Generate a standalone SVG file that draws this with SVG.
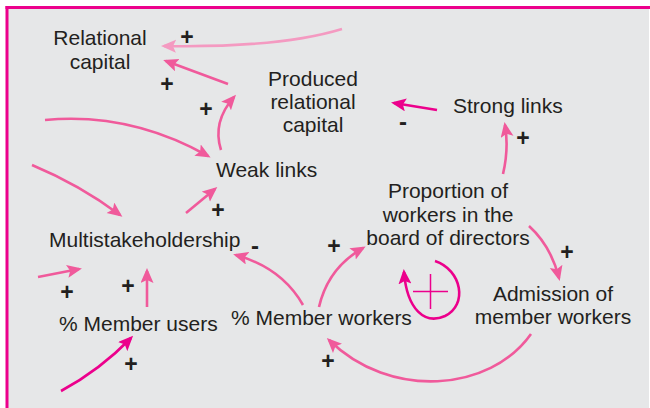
<svg xmlns="http://www.w3.org/2000/svg" width="650" height="408" viewBox="0 0 650 408">
<defs>
<style>
.t{font-family:"Liberation Sans",Arial,sans-serif;font-size:21px;fill:#231f20}
.s{font-family:"Liberation Sans",Arial,sans-serif;font-size:21px;fill:#231f20;text-anchor:middle}
.p{font-family:"Liberation Sans",Arial,sans-serif;font-size:23px;font-weight:bold;fill:#231f20;text-anchor:middle}
.m{font-family:"Liberation Sans",Arial,sans-serif;font-size:24px;font-weight:bold;fill:#231f20;text-anchor:middle}
.c{fill:none;stroke:#f05a9b;stroke-width:2.6}
.d{fill:none;stroke:#ec008c;stroke-width:2.6}
.l{fill:none;stroke:#f49ac1;stroke-width:2.6}
</style>
<marker id="ap" markerUnits="userSpaceOnUse" markerWidth="16" markerHeight="14" refX="12" refY="6.5" orient="auto" viewBox="0 0 16 14"><path d="M0,0 L15,6.5 L0,13 L3,6.5 z" fill="#f05a9b"/></marker>
<marker id="ad" markerUnits="userSpaceOnUse" markerWidth="16" markerHeight="14" refX="12" refY="6.5" orient="auto" viewBox="0 0 16 14"><path d="M0,0 L15,6.5 L0,13 L3,6.5 z" fill="#ec008c"/></marker>
<marker id="al" markerUnits="userSpaceOnUse" markerWidth="16" markerHeight="14" refX="12" refY="6.5" orient="auto" viewBox="0 0 16 14"><path d="M0,0 L15,6.5 L0,13 L3,6.5 z" fill="#f49ac1"/></marker>
</defs>
<rect width="650" height="408" fill="#ffffff"/>
<rect x="7" y="7" width="642" height="410" fill="#e6e7e8"/>
<line x1="5.5" y1="7.5" x2="650" y2="7.5" stroke="#ec008c" stroke-width="3"/>
<line x1="7" y1="6" x2="7" y2="408" stroke="#ec008c" stroke-width="3"/>

<g id="connectors">
<path class="l" d="M342,29 Q280,48 164,46" marker-end="url(#al)"/>
<path class="c" d="M228,84 L166,61" marker-end="url(#ap)"/>
<path class="c" d="M221,150 Q212,122 234,97" marker-end="url(#ap)"/>
<path class="c" d="M45,120 Q130,112 208,156" marker-end="url(#ap)"/>
<path class="c" d="M32,165 Q80,185 120,215" marker-end="url(#ap)"/>
<path class="c" d="M186,213 L215,189" marker-end="url(#ap)"/>
<path class="c" d="M303,305 Q282,268 236,255" marker-end="url(#ap)"/>
<path class="c" d="M38,277 L79,269" marker-end="url(#ap)"/>
<path class="c" d="M147,307 L147,271" marker-end="url(#ap)"/>
<path class="d" d="M61,391 Q100,370 131,338" marker-end="url(#ad)"/>
<path class="c" d="M319,307 Q328,268 363,248" marker-end="url(#ap)"/>
<path class="c" d="M529,226 Q551,246 559,278" marker-end="url(#ap)"/>
<path class="c" d="M531,334 C490,392 390,400 329,340" marker-end="url(#ap)"/>
<path class="c" d="M503,174 Q509,148 505,125" marker-end="url(#ap)"/>
<path class="d" d="M437,110 L394,103" marker-end="url(#ad)"/>
<path class="d" d="M435,261 C462,270 468,305 445,316 C425,325 407,310 404,272" marker-end="url(#ad)"/>
<path d="M413,291.5 H448 M430.5,274 V309" stroke="#ec008c" stroke-width="1.5" fill="none"/>
</g>

<g id="relational-capital"><text class="s" x="100" y="45">Relational</text><text class="s" x="100" y="68.5">capital</text></g>
<g id="produced-relational-capital"><text class="s" x="313" y="85.5">Produced</text><text class="s" x="313" y="109">relational</text><text class="s" x="313" y="132">capital</text></g>
<g id="strong-links"><text class="t" x="453" y="113">Strong links</text></g>
<g id="weak-links"><text class="t" x="216" y="177">Weak links</text></g>
<g id="proportion"><text class="s" x="448" y="198">Proportion of</text><text class="s" x="448" y="221.5">workers in the</text><text class="s" x="448" y="245">board of directors</text></g>
<g id="multistakeholdership"><text class="t" x="49" y="247">Multistakeholdership</text></g>
<g id="member-users"><text class="t" x="59" y="331">% Member users</text></g>
<g id="member-workers"><text class="t" x="231" y="325">% Member workers</text></g>
<g id="admission"><text class="s" x="553" y="300.5">Admission of</text><text class="s" x="553" y="324">member workers</text></g>

<g id="polarities">
<text class="p" x="187" y="45">+</text>
<text class="p" x="167" y="92">+</text>
<text class="p" x="206" y="117">+</text>
<text class="m" x="403" y="130">-</text>
<text class="p" x="523" y="146">+</text>
<text class="p" x="218" y="218">+</text>
<text class="m" x="255" y="254">-</text>
<text class="p" x="67" y="300">+</text>
<text class="p" x="128" y="294">+</text>
<text class="p" x="131" y="372">+</text>
<text class="p" x="334" y="254">+</text>
<text class="p" x="567" y="260">+</text>
<text class="p" x="328" y="369">+</text>
</g>
</svg>
